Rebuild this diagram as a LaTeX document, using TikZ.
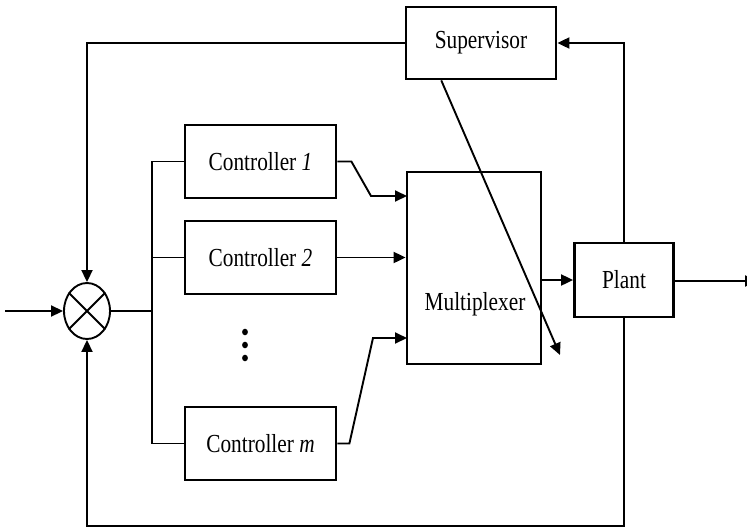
\documentclass[tikz,border=0pt]{standalone}
\usepackage{fontspec}
\setmainfont{Liberation Serif}[FakeStretch=0.82]
\usetikzlibrary{arrows.meta,shapes.geometric,calc}
\begin{document}
\begin{tikzpicture}[x=1pt,y=-1pt,
  blk/.style={draw, line width=2.8pt, inner sep=0pt, fill=white,
              font=\fontsize{26}{30}\selectfont},
  ctrl/.style={blk, minimum width=151pt, minimum height=73pt},
  wire/.style={line width=1.9pt},
  arr/.style={wire, -{Triangle[length=12pt,width=11pt]}},
  lbl/.style={inner sep=0pt, font=\fontsize{26}{30}\selectfont},
  ]
\useasboundingbox (0,0) rectangle (747,528);

% blocks
\node[blk, minimum width=150pt, minimum height=72pt] (sup) at (481,43) {Supervisor};
\node[ctrl] (c1) at (260.5,161.5) {Controller \textit{1}};
\node[ctrl] (c2) at (260.5,257.5) {Controller \textit{2}};
\node[ctrl] (cm) at (260.5,443.5) {Controller \textit{m}};
\node[blk, minimum width=134pt, minimum height=192pt] (mux) at (474,268) {};
\node[lbl] (muxlabel) at (475,304) {Multiplexer};
\node[blk, minimum width=99pt, minimum height=74pt] (plant) at (624,280) {Plant};

% summing junction
\node[draw, ellipse, line width=1.9pt, minimum width=46pt, minimum height=56pt,
      inner sep=0pt] (sum) at (87,311) {};
\draw[wire] (sum.45) -- (sum.225) (sum.135) -- (sum.315);

% reference input
\coordinate (ref) at (5,311);
\draw[arr] (ref) -- (sum.west);

% distribution bus to the controllers
\coordinate (bus) at (152,311);
\draw[wire] (sum.east) -- (bus);
\draw[wire] (c1.west) -| (bus) |- (cm.west);
\draw[wire] (bus) |- (c2.west);

% controller outputs into the multiplexer
\coordinate (m1) at (407,196);
\coordinate (m3) at (407,338);
\draw[arr] (c1.east) -- ++(14,0) -- (371,196) -- (m1);
\draw[arr] (c2.east) -- (c2.east -| mux.west);
\draw[arr] (cm.east) -- ++(12,0) -- (373,338) -- (m3);

% ellipsis between controllers
\fill (245,332) ellipse (2.9pt and 3.3pt) (245,345) ellipse (2.9pt and 3.3pt)
      (245,358) ellipse (2.9pt and 3.3pt);

% multiplexer to plant, plant output
\draw[arr] (mux.east |- plant.west) -- (plant.west);
\coordinate (out) at (757,281);
\draw[arr] (plant.east |- out) -- (out);

% feedback paths
\coordinate (fbtop) at (plant.north |- sup.east);
\draw[arr] (plant.north) -- (fbtop) -- (sup.east);
\coordinate (fbbot) at (plant.south |- 0,526);
\draw[arr] (plant.south) -- (fbbot) -| (sum.south);
\draw[arr] (sup.west) -| (sum.north);

% switching signal from the supervisor
\coordinate (swbase) at ($(sup.south west)!0.24!(sup.south east)$);
\coordinate (swtip) at (560,355);
\draw[arr] (swbase) -- (swtip);
\end{tikzpicture}
\end{document}
